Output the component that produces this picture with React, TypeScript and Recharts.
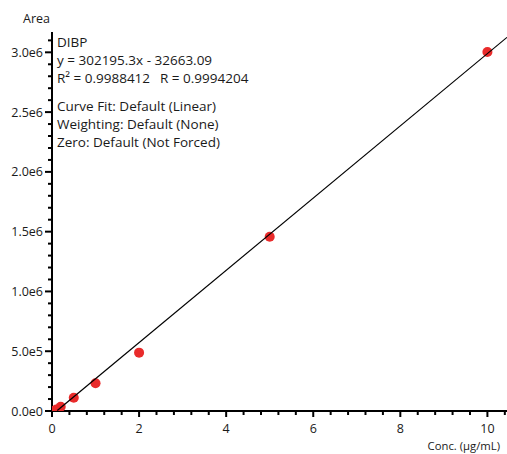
import React from 'react';
import { ScatterChart, Scatter, XAxis, YAxis } from 'recharts';

// Calibration standards (conc. µg/mL) and measured areas
const concentrations = [0.05, 0.1, 0.2, 0.5, 1, 2, 5, 10];
const areas = [3000, 12000, 35000, 111000, 232000, 488000, 1458000, 3002000];

// Fitted line end points (y = 302195.3x - 32663.09)
const fitX = [0.12, 10.45];
const fitY = [3600, 3125300];

const xTicks = [0, 0.4, 0.8, 1.2, 1.6, 2, 2.4, 2.8, 3.2, 3.6, 4, 4.4, 4.8, 5.2, 5.6, 6, 6.4, 6.8, 7.2, 7.6, 8, 8.4, 8.8, 9.2, 9.6, 10, 10.4];
const xMajorTicks = [0, 2, 4, 6, 8, 10];
const xTickLabels = ['0', '2', '4', '6', '8', '10'];

const yTicks = [0, 100000, 200000, 300000, 400000, 500000, 600000, 700000, 800000, 900000, 1000000, 1100000, 1200000, 1300000, 1400000, 1500000, 1600000, 1700000, 1800000, 1900000, 2000000, 2100000, 2200000, 2300000, 2400000, 2500000, 2600000, 2700000, 2800000, 2900000, 3000000, 3100000];
const yMajorTicks = [0, 500000, 1000000, 1500000, 2000000, 2500000, 3000000];
const yTickLabels = ['0.0e0', '5.0e5', '1.0e6', '1.5e6', '2.0e6', '2.5e6', '3.0e6'];

const annotationLines = ['DIBP', 'y = 302195.3x - 32663.09'];
const r2Text = 'R² = 0.9988412';
const rText = 'R = 0.9994204';
const settingsLines = ['Curve Fit: Default (Linear)', 'Weighting: Default (None)', 'Zero: Default (Not Forced)'];

const points = concentrations.map((c, i) => ({ x: c, y: areas[i] }));
const fitLine = fitX.map((x, i) => ({ x, y: fitY[i] }));

const FONT = '"Open Sans", "Noto Sans", sans-serif';
const TEXT_COLOR = '#1a1a1a';

const findMajor = (v: number, majors: number[]) => majors.findIndex((m) => Math.abs(m - v) < 1e-6);

const XTick = (props: any) => {
  const { x, y, payload } = props;
  const idx = findMajor(payload.value, xMajorTicks);
  const major = idx >= 0;
  return (
    <g>
      <line x1={x} x2={x} y1={y} y2={y + (major ? 6 : 4)} stroke="#000" strokeWidth={2} />
      {major && (
        <text x={x} y={y + 22} textAnchor="middle" fontFamily={FONT} fontSize={12.5} fill={TEXT_COLOR}>
          {xTickLabels[idx]}
        </text>
      )}
    </g>
  );
};

const YTick = (props: any) => {
  const { x, y, payload } = props;
  const idx = findMajor(payload.value, yMajorTicks);
  const major = idx >= 0;
  return (
    <g>
      <line x1={x} x2={x - (major ? 7 : 4)} y1={y} y2={y} stroke="#000" strokeWidth={2} />
      {major && (
        <text x={x - 9} y={y} dy="0.36em" textAnchor="end" fontFamily={FONT} fontSize={12.5} fill={TEXT_COLOR}>
          {yTickLabels[idx]}
        </text>
      )}
    </g>
  );
};

const Dot = (props: any) => <circle cx={props.cx} cy={props.cy} r={5} fill="#E92B2B" />;
const NoShape = () => <g />;

export default function App() {
  return (
    <div style={{ position: 'absolute', left: 0, top: 0, width: 507, height: 454 }}>
      <ScatterChart width={507} height={454} margin={{ top: 32, right: 0, bottom: 0, left: 0 }}>
        <XAxis
          type="number"
          dataKey="x"
          domain={[0, 10.45]}
          ticks={xTicks}
          interval={0}
          height={43}
          tickSize={0}
          tickMargin={0}
          tickLine={false}
          axisLine={{ stroke: '#000', strokeWidth: 2 }}
          tick={<XTick />}
          allowDataOverflow
        />
        <YAxis
          type="number"
          dataKey="y"
          domain={[0, 3170000]}
          ticks={yTicks}
          interval={0}
          width={52}
          tickSize={0}
          tickMargin={0}
          tickLine={false}
          axisLine={{ stroke: '#000', strokeWidth: 2 }}
          tick={<YTick />}
          allowDataOverflow
        />
        <Scatter data={points} shape={<Dot />} isAnimationActive={false} />
        <Scatter
          data={fitLine}
          shape={<NoShape />}
          line={{ stroke: '#000', strokeWidth: 1.2 }}
          isAnimationActive={false}
        />
      </ScatterChart>
      <svg
        width={507}
        height={454}
        style={{ position: 'absolute', left: 0, top: 0, pointerEvents: 'none' }}
      >
        <g fontFamily={FONT} fill={TEXT_COLOR}>
          <text x={23} y={23} fontSize={12.5}>Area</text>
          <text x={500} y={450} textAnchor="end" fontSize={11.3}>Conc. (µg/mL)</text>
          <g fontSize={13.5}>
            <text x={57} y={46.5}>{annotationLines[0]}</text>
            <text x={57} y={64.5}>{annotationLines[1]}</text>
            <text x={57} y={82.5}>{r2Text}</text>
            <text x={160} y={82.5}>{rText}</text>
            <text x={57} y={110.5}>{settingsLines[0]}</text>
            <text x={57} y={128.5}>{settingsLines[1]}</text>
            <text x={57} y={146.5}>{settingsLines[2]}</text>
          </g>
        </g>
      </svg>
    </div>
  );
}
